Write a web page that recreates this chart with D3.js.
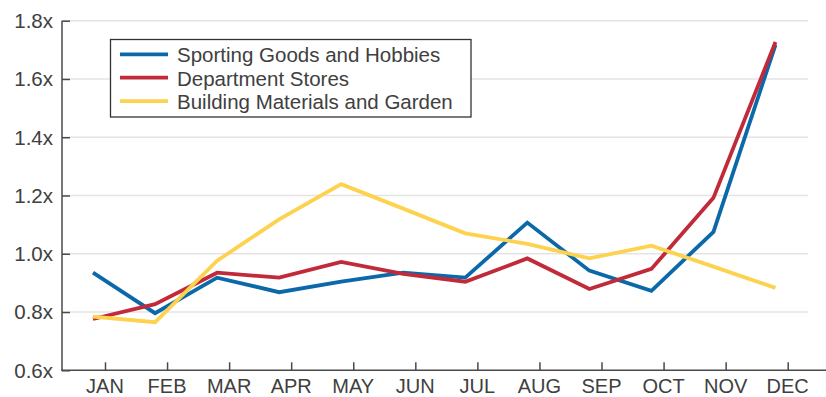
<!DOCTYPE html>
<html>
<head>
<meta charset="utf-8">
<script src="https://cdn.jsdelivr.net/npm/d3@7"></script>
<style>
  html, body { margin: 0; padding: 0; background: #fff; }
  svg { display: block; }
  text { font-family: "Liberation Sans", Arial, sans-serif; fill: #404040; }
</style>
</head>
<body>
<svg id="chart" width="826" height="397"></svg>
<script>
const months = ["JAN","FEB","MAR","APR","MAY","JUN","JUL","AUG","SEP","OCT","NOV","DEC"];
const seriesNames = ["Sporting Goods and Hobbies", "Department Stores", "Building Materials and Garden"];
const sportingGoods = [0.935, 0.796, 0.918, 0.868, 0.904, 0.935, 0.918, 1.107, 0.942, 0.873, 1.075, 1.717];
const departmentStores = [0.776, 0.827, 0.935, 0.918, 0.972, 0.931, 0.904, 0.984, 0.879, 0.948, 1.192, 1.727];
const buildingMaterials = [0.784, 0.765, 0.976, 1.118, 1.239, 1.155, 1.070, 1.034, 0.984, 1.028, 0.956, 0.883];
const yTicks = [0.6, 0.8, 1.0, 1.2, 1.4, 1.6, 1.8];
const colors = ["#0b68a9", "#c12a39", "#fdd24f"];

const svg = d3.select("#chart");
const axisLeft = 62, axisRight = 826, gridRight = 808;

const y = d3.scaleLinear().domain([0.6, 1.8]).range([370.3, 20.7]);
// data points sit slightly left of the tick marks, as in the reference
const xData = d3.scalePoint().domain(months).range([93, 775.5]);
const xTick = d3.scalePoint().domain(months).range([105, 787.7]);

// gridlines
svg.append("g").selectAll("line").data(yTicks.slice(1)).join("line")
  .attr("x1", axisLeft).attr("x2", gridRight)
  .attr("y1", d => y(d)).attr("y2", d => y(d))
  .attr("stroke", "#e4e4e4").attr("stroke-width", 1.5);

// y axis
const yAxis = d3.axisRight(y).tickValues(yTicks).tickSize(8).tickFormat("");
const gy = svg.append("g").attr("transform", `translate(${axisLeft},0)`).call(yAxis);
gy.select(".domain").remove();
gy.selectAll(".tick line").attr("stroke", "#4a4a4a").attr("stroke-width", 1.5);
svg.append("line").attr("x1", axisLeft).attr("x2", axisLeft)
  .attr("y1", y(1.8)).attr("y2", y(0.6) + 0.75)
  .attr("stroke", "#4a4a4a").attr("stroke-width", 1.5);
svg.append("g").selectAll("text").data(yTicks).join("text")
  .attr("x", 53).attr("y", d => y(d))
  .attr("dy", "0.36em")
  .attr("text-anchor", "end")
  .style("font-size", "20.5px")
  .text(d => d.toFixed(1) + "x");

// x axis
const xAxis = d3.axisTop(xTick).tickSize(8).tickFormat("");
const gx = svg.append("g").attr("transform", `translate(0,${y(0.6)})`).call(xAxis);
gx.select(".domain").remove();
gx.selectAll(".tick line").attr("stroke", "#4a4a4a").attr("stroke-width", 1.5);
svg.append("line").attr("x1", axisLeft - 0.75).attr("x2", axisRight)
  .attr("y1", y(0.6)).attr("y2", y(0.6))
  .attr("stroke", "#4a4a4a").attr("stroke-width", 1.5);
svg.append("g").selectAll("text").data(months).join("text")
  .attr("x", d => xTick(d)).attr("y", 392.6)
  .attr("text-anchor", "middle")
  .style("font-size", "20px")
  .text(d => d);

// lines
const allSeries = [sportingGoods, departmentStores, buildingMaterials];
const line = d3.line().x((d, i) => xData(months[i])).y(d => y(d));
svg.append("g").selectAll("path").data(allSeries).join("path")
  .attr("d", d => line(d))
  .attr("fill", "none")
  .attr("stroke", (d, i) => colors[i])
  .attr("stroke-width", 3.8)
  .attr("stroke-linejoin", "miter")
  .attr("stroke-linecap", "butt");

// legend
const lg = svg.append("g");
lg.append("rect").attr("x", 110.5).attr("y", 39.5).attr("width", 360.5).attr("height", 77.5)
  .attr("fill", "#fff").attr("stroke", "#333").attr("stroke-width", 1.3);
seriesNames.forEach((name, i) => {
  const cy = 54.3 + i * 23.4;
  lg.append("line").attr("x1", 120).attr("x2", 168).attr("y1", cy).attr("y2", cy)
    .attr("stroke", colors[i]).attr("stroke-width", 3.8);
  lg.append("text").attr("x", 177).attr("y", cy + 7.8)
    .style("font-size", "20.5px").text(name);
});
</script>
</body>
</html>
